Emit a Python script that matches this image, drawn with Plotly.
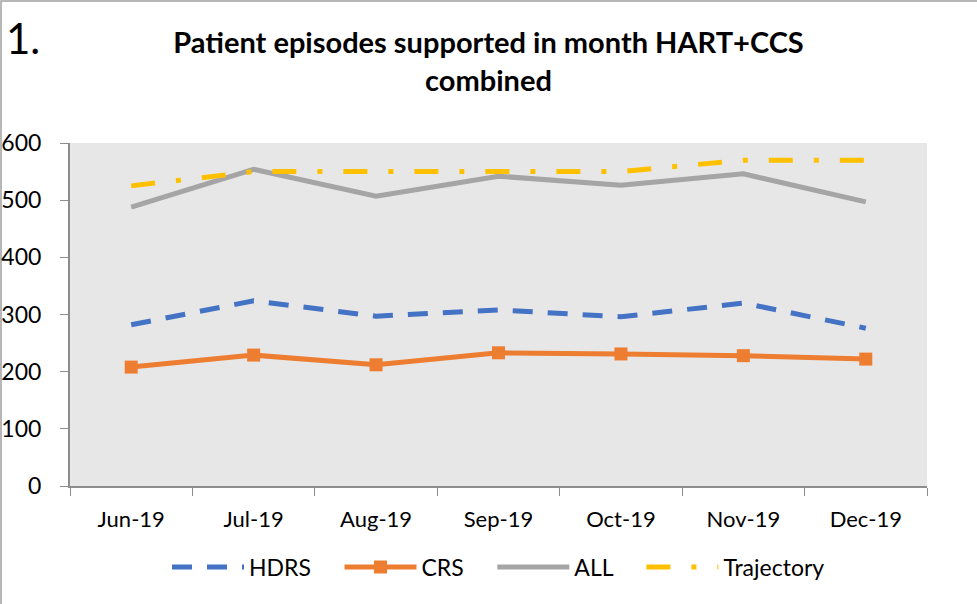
import plotly.graph_objects as go

months = ["Jun-19", "Jul-19", "Aug-19", "Sep-19", "Oct-19", "Nov-19", "Dec-19"]
hdrs = [282, 324, 297, 308, 296, 320, 276]
crs = [208, 229, 212, 233, 231, 228, 222]
all_eps = [488, 554, 507, 542, 526, 546, 497]
trajectory = [525, 550, 550, 550, 550, 570, 570]

FONT = "Lato"
PAD = "\u00a0" * 4  # extra room between legend entries


def main():
    fig = go.Figure()

    fig.add_trace(go.Scatter(x=months, y=hdrs, mode="lines", name="HDRS" + PAD,
                             line=dict(color="#4472C4", width=5, dash="20px,15px")))
    fig.add_trace(go.Scatter(x=months, y=crs, mode="lines+markers", name="CRS" + PAD,
                             line=dict(color="#ED7D31", width=5),
                             marker=dict(symbol="square", size=13, color="#ED7D31")))
    fig.add_trace(go.Scatter(x=months, y=all_eps, mode="lines", name="ALL" + PAD,
                             line=dict(color="#A5A5A5", width=5)))
    fig.add_trace(go.Scatter(x=months, y=trajectory, mode="lines", name="Trajectory",
                             line=dict(color="#FFC000", width=5, dash="24px,21px,5px,21px")))

    l, r, t, b = 70, 50, 143, 118
    pw, ph = 977 - l - r, 604 - t - b

    fig.update_layout(
        width=977, height=604,
        margin=dict(l=l, r=r, t=t, b=b, autoexpand=False),
        paper_bgcolor="white",
        plot_bgcolor="#E7E7E7",
        font=dict(family=FONT, size=23, color="black"),
        title=dict(text="<b>Patient episodes supported in month HART+CCS<br>combined</b>",
                   x=0.5, xref="container", yref="container", y=1 - 53 / 604, yanchor="top",
                   font=dict(size=29, family=FONT)),
        showlegend=True,
        legend=dict(orientation="h", x=0.5, xanchor="center", y=-81 / ph, yanchor="middle",
                    font=dict(size=23), itemwidth=72),
        xaxis=dict(range=[-0.5, len(months) - 0.5], showgrid=False, showline=True,
                   linecolor="#8C8C8C", linewidth=2,
                   ticks="outside", tickson="boundaries", ticklen=8,
                   tickcolor="#8C8C8C", tickwidth=1, tickfont=dict(size=22),
                   ticklabelstandoff=13, automargin=False),
        yaxis=dict(range=[0, 600], dtick=100, showgrid=False, showline=True,
                   linecolor="#8C8C8C", linewidth=2, ticks="outside", ticklen=8,
                   tickcolor="#8C8C8C", zeroline=False, tickfont=dict(size=23),
                   ticklabelstandoff=14, automargin=False),
        annotations=[dict(text="1.", xref="paper", yref="paper",
                          x=-(l - 4) / pw, y=1 + (t - 11) / ph, xanchor="left", yanchor="top",
                          showarrow=False, font=dict(size=42, family=FONT))],
        shapes=[dict(type="rect", xref="paper", yref="paper",
                     x0=-(l - 1) / pw, x1=1 + (r + 5) / pw,
                     y0=-(b + 5) / ph, y1=1 + (t - 1) / ph,
                     line=dict(color="#A0A0A0", width=1.5), layer="below")],
    )

    fig.write_html("out.html", config={"displayModeBar": False},
                   post_script="document.body.style.margin='0';")


if __name__ == "__main__":
    main()
